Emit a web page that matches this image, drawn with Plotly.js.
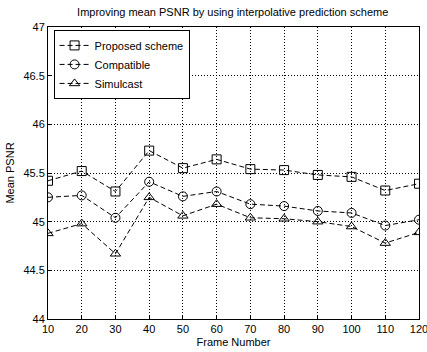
<!DOCTYPE html>
<html><head><meta charset="utf-8">
<script src="https://cdn.plot.ly/plotly-3.0.1.min.js"></script>
<style>body{margin:0;background:#fff;overflow:hidden}#c{width:427px;height:352px}</style>
</head><body><div id="c"></div>
<script>
var frames = [10,20,30,40,50,60,70,80,90,100,110,120];
var proposed = [45.42,45.52,45.31,45.73,45.55,45.64,45.54,45.53,45.48,45.46,45.32,45.39];
var compatible = [45.25,45.27,45.04,45.41,45.26,45.31,45.18,45.16,45.11,45.09,44.96,45.02];
var simulcast = [44.88,44.98,44.67,45.25,45.06,45.18,45.04,45.03,45.00,44.95,44.78,44.89];
var seriesNames = ['Proposed scheme','Compatible','Simulcast'];
var symbols = ['square-open','circle-open','triangle-up-open'];
var data = [proposed, compatible, simulcast].map(function(v,i){
  return {x: frames, y: v, name: seriesNames[i], type:'scatter', mode:'lines+markers',
    line:{color:'#000', width:1, dash:'5px,3px'},
    marker:{symbol:symbols[i], size:9, color:'#000', line:{color:'#000', width:1}}};
});
var font = {family:'Liberation Sans, Arial, sans-serif', size:11, color:'#000'};
var layout = {
  width:427, height:352,
  margin:{l:48, r:8, t:27, b:33},
  paper_bgcolor:'#fff', plot_bgcolor:'#fff',
  font: font,
  showlegend:true,
  title:{text:'Improving mean PSNR by using interpolative prediction scheme', font:{family:font.family,size:11,color:'#000'}, x:0.545, xanchor:'center', y:0.965, yanchor:'middle'},
  xaxis:{range:[10,120], tickvals:frames, ticks:'inside', ticklen:4, tickcolor:'#000',
    ticklabeloverflow:'allow',
    showline:true, mirror:true, linecolor:'#000', linewidth:1,
    showgrid:true, gridcolor:'#000', griddash:'1px,2px', gridwidth:1, zeroline:false,
    title:{text:'Frame Number', font:font, standoff:4}, tickfont:font},
  yaxis:{range:[44,47], tickvals:[44,44.5,45,45.5,46,46.5,47], ticktext:['44','44.5','45','45.5','46','46.5','47'],
    ticks:'inside', ticklen:4, tickcolor:'#000',
    showline:true, mirror:true, linecolor:'#000', linewidth:1,
    showgrid:true, gridcolor:'#000', griddash:'1px,2px', gridwidth:1, zeroline:false,
    title:{text:'Mean PSNR', font:font, standoff:6}, tickfont:font},
  legend:{x:0.015, y:0.99, xanchor:'left', yanchor:'top', bgcolor:'#fff', bordercolor:'#000', borderwidth:1,
    font:{family:font.family, size:11, color:'#000'}, tracegroupgap:0, itemwidth:30}
};
Plotly.newPlot('c', data, layout, {displayModeBar:false, staticPlot:true});
</script></body></html>
